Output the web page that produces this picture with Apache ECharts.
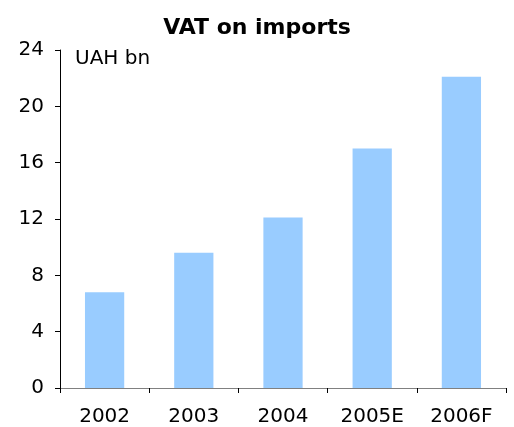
<!DOCTYPE html>
<html>
<head>
<meta charset="utf-8">
<script src="https://cdn.jsdelivr.net/npm/echarts@6/dist/echarts.min.js"></script>
<style>
  html, body { margin: 0; padding: 0; background: #fff; }
  #container { width: 514px; height: 427px; }
</style>
</head>
<body>
<div id="container"></div>
<script>
var years = ['2002', '2003', '2004', '2005E', '2006F'];
var vatValues = [6.8, 9.6, 12.1, 17.0, 22.1];
var yTicks = [0, 4, 8, 12, 16, 20, 24];

var font = 'DejaVu Sans, Verdana, sans-serif';
var myChart = echarts.init(document.getElementById('container'));
var option = {
    backgroundColor: '#ffffff',
    animation: false,
    title: {
        text: 'VAT on imports',
        left: 'center',
        top: 12,
        textStyle: { fontFamily: font, fontSize: 22, fontWeight: 'bold', color: '#000' }
    },
    graphic: [{
        type: 'text',
        left: 75,
        top: 49,
        style: { text: 'UAH bn', fontFamily: font, fontSize: 20, fill: '#000' }
    }],
    grid: { left: 60, right: 8, top: 50, bottom: 39, containLabel: false },
    xAxis: {
        type: 'category',
        data: years,
        axisLine: { lineStyle: { color: '#808080', width: 1 } },
        axisTick: { show: true, alignWithLabel: false, length: 5, inside: false, lineStyle: { color: '#000' } },
        axisLabel: { fontFamily: font, fontSize: 20, color: '#000', margin: 19 }
    },
    yAxis: {
        type: 'value',
        min: yTicks[0],
        max: yTicks[yTicks.length - 1],
        interval: 4,
        axisLine: { show: true, lineStyle: { color: '#000', width: 1 } },
        axisTick: { show: true, length: 5, lineStyle: { color: '#000' } },
        splitLine: { show: false },
        axisLabel: { fontFamily: font, fontSize: 20, color: '#000', margin: 16 }
    },
    series: [{
        type: 'bar',
        data: vatValues,
        barWidth: '44%',
        itemStyle: { color: '#99ccff' }
    }]
};
myChart.setOption(option);
</script>
</body>
</html>
